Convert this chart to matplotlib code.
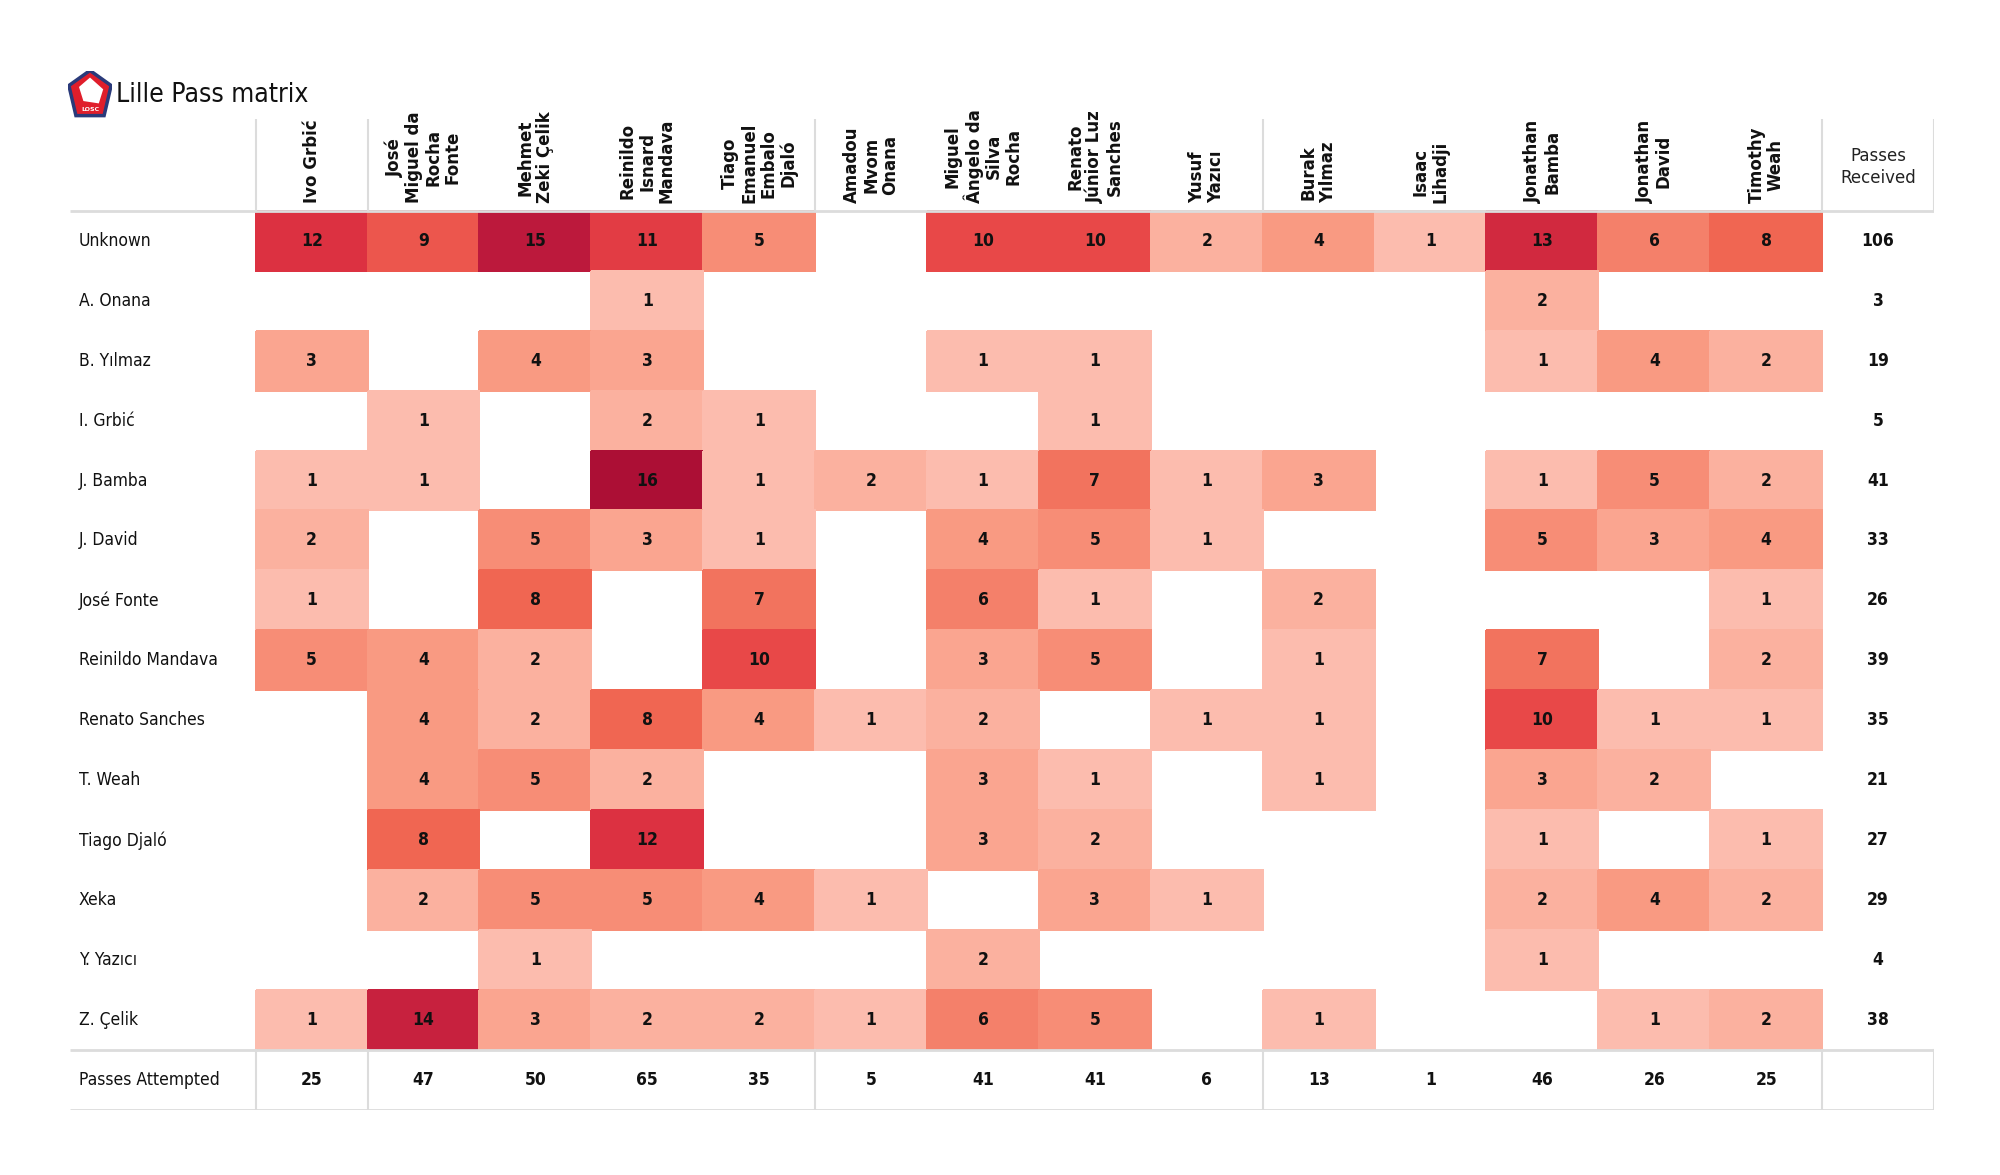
import numpy as np
import matplotlib
matplotlib.use("Agg")
import matplotlib.pyplot as plt
from matplotlib.colors import LinearSegmentedColormap
from matplotlib.patches import Polygon

# receivers (columns)
receivers = ["Ivo Grbić", "José\nMiguel da\nRocha\nFonte", "Mehmet\nZeki Çelik",
             "Reinildo\nIsnard\nMandava", "Tiago\nEmanuel\nEmbalo\nDjaló",
             "Amadou\nMvom\nOnana", "Miguel\nÂngelo da\nSilva\nRocha",
             "Renato\nJúnior Luz\nSanches", "Yusuf\nYazıcı", "Burak\nYılmaz",
             "Isaac\nLihadji", "Jonathan\nBamba", "Jonathan\nDavid", "Timothy\nWeah"]

# passers (rows)
passers = ["Unknown", "A. Onana", "B. Yılmaz", "I. Grbić", "J. Bamba", "J. David",
           "José Fonte", "Reinildo Mandava", "Renato Sanches", "T. Weah",
           "Tiago Djaló", "Xeka", "Y. Yazıcı", "Z. Çelik"]

passes = np.array([
    [12, 9, 15, 11, 5, 0, 10, 10, 2, 4, 1, 13, 6, 8],
    [0, 0, 0, 1, 0, 0, 0, 0, 0, 0, 0, 2, 0, 0],
    [3, 0, 4, 3, 0, 0, 1, 1, 0, 0, 0, 1, 4, 2],
    [0, 1, 0, 2, 1, 0, 0, 1, 0, 0, 0, 0, 0, 0],
    [1, 1, 0, 16, 1, 2, 1, 7, 1, 3, 0, 1, 5, 2],
    [2, 0, 5, 3, 1, 0, 4, 5, 1, 0, 0, 5, 3, 4],
    [1, 0, 8, 0, 7, 0, 6, 1, 0, 2, 0, 0, 0, 1],
    [5, 4, 2, 0, 10, 0, 3, 5, 0, 1, 0, 7, 0, 2],
    [0, 4, 2, 8, 4, 1, 2, 0, 1, 1, 0, 10, 1, 1],
    [0, 4, 5, 2, 0, 0, 3, 1, 0, 1, 0, 3, 2, 0],
    [0, 8, 0, 12, 0, 0, 3, 2, 0, 0, 0, 1, 0, 1],
    [0, 2, 5, 5, 4, 1, 0, 3, 1, 0, 0, 2, 4, 2],
    [0, 0, 1, 0, 0, 0, 2, 0, 0, 0, 0, 1, 0, 0],
    [1, 14, 3, 2, 2, 1, 6, 5, 0, 1, 0, 0, 1, 2],
])

received = passes.sum(axis=1)
attempted = passes.sum(axis=0)

# column groups separated by vertical lines
group_edges = [0, 1, 5, 9, 14, 15]

cmap = LinearSegmentedColormap.from_list("lille", [
    (0.0, "#fdd3c8"), (0.0625, "#fcbcae"), (0.25, "#f99a82"), (0.5, "#f06652"),
    (0.625, "#e84848"), (0.75, "#dc3141"), (0.9375, "#bd1a3c"), (1.0, "#ac0f35")])

nr, nc = passes.shape
label_w = 1.66
head_h = 1.52

fig = plt.figure(figsize=(20, 11.75), dpi=100)
ax = fig.add_axes([0.035, 0.055, 0.932, 0.8434])
ax.set_xlim(-label_w, nc + 1)
ax.set_ylim(nr + 1, -head_h)
ax.axis("off")

masked = np.ma.masked_where(passes == 0, passes)
ax.pcolormesh(np.arange(nc + 1), np.arange(nr + 1), masked, cmap=cmap,
              vmin=0, vmax=16, edgecolor="face", linewidth=0.3)

txt = dict(fontsize=12.5, color="#111111", fontstretch="condensed")
for i in range(nr):
    for j in range(nc):
        if passes[i, j]:
            ax.text(j + 0.5, i + 0.5, str(passes[i, j]), ha="center", va="center",
                    fontweight="bold", **txt)
    ax.text(nc + 0.5, i + 0.5, str(received[i]), ha="center", va="center",
            fontweight="bold", **txt)
    ax.text(-label_w + 0.08, i + 0.5, passers[i], ha="left", va="center", **txt)

ax.text(-label_w + 0.08, nr + 0.5, "Passes Attempted", ha="left", va="center", **txt)
for j in range(nc):
    ax.text(j + 0.5, nr + 0.5, str(attempted[j]), ha="center", va="center",
            fontweight="bold", **txt)
    ax.text(j + 0.5, -0.12, receivers[j], rotation=90, ha="center", va="bottom",
            multialignment="center", fontsize=12, fontweight="bold",
            color="#111111", linespacing=1.1)
ax.text(nc + 0.5, -0.72, "Passes\nReceived", ha="center", va="center",
        fontsize=12, color="#222222", linespacing=1.3)

# grid lines
lc = "#dcdcdc"
for y in [0, nr, nr + 1]:
    ax.plot([-label_w, nc + 1], [y, y], color=lc, lw=2, solid_capstyle="butt")
for x in group_edges:
    ax.plot([x, x], [-head_h, 0], color=lc, lw=1.5)
    ax.plot([x, x], [nr, nr + 1], color=lc, lw=1.5)

# title and badge
fig.text(0.058, 0.919, "Lille Pass matrix", fontsize=19, va="center", ha="left",
         color="#111111", fontstretch="condensed")
lax = fig.add_axes([0.034, 0.900, 0.022, 0.04])
lax.set_xlim(0, 1)
lax.set_ylim(0, 1)
lax.axis("off")
lax.add_patch(Polygon([[0.5, 1.0], [0.98, 0.68], [0.82, 0.04], [0.18, 0.04], [0.02, 0.68]],
                      closed=True, fc="#e01e2b", ec="#2a3a7a", lw=2.5))
lax.add_patch(Polygon([[0.25, 0.65], [0.5, 0.85], [0.8, 0.6], [0.7, 0.3], [0.35, 0.35]],
                      closed=True, fc="white", ec="none"))
lax.text(0.5, 0.18, "LOSC", fontsize=4.5, color="white", ha="center", va="center",
         fontweight="bold")

fig.savefig("out.png", dpi=100, facecolor="white")
